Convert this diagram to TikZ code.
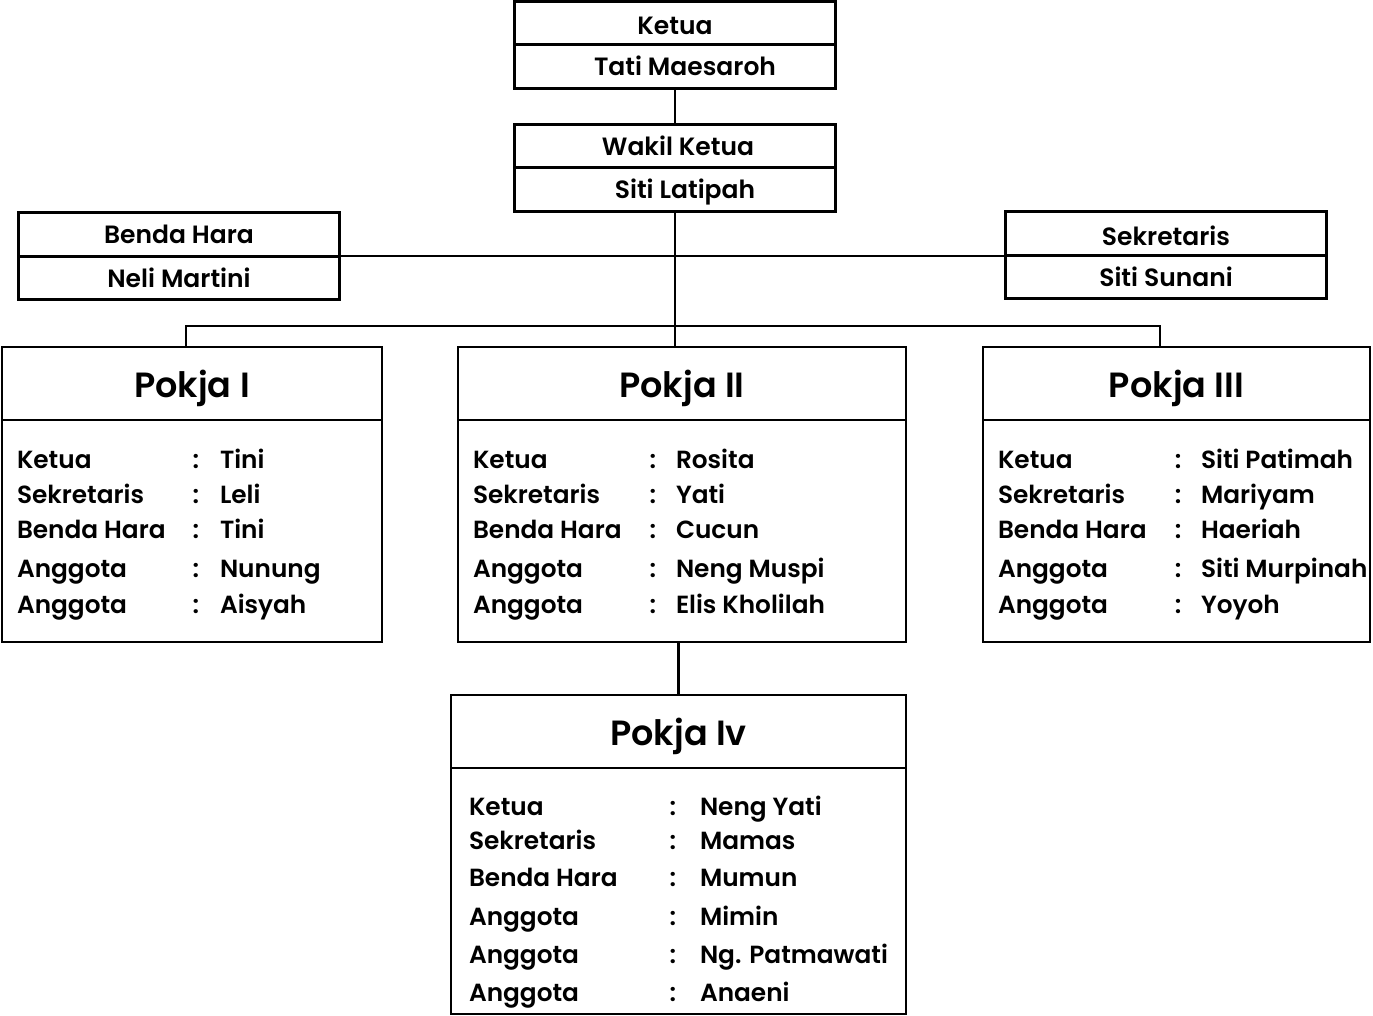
\documentclass[tikz,border=0pt]{standalone}
\usepackage{fontspec}
\setmainfont{Poppins SemiBold}
\usetikzlibrary{positioning}

\begin{document}
\begin{tikzpicture}[
  x=1pt, y=-1pt,
  every node/.style = {inner sep=0pt, outer sep=0pt},
  rolebox/.style = {draw, line width=2.6pt, minimum width=321pt, minimum height=43.5pt, text height=20pt, text depth=1.5pt, font=\fontsize{25}{28}\selectfont},
  pokjahead/.style = {draw, line width=2.6pt, minimum height=73pt, text height=30pt, text depth=3pt, font=\fontsize{35}{39}\selectfont},
  pokjabody/.style = {draw, line width=2.6pt},
  rowtext/.style = {anchor=base west, font=\fontsize{24.8}{28}\selectfont},
  colon/.style = {anchor=base, font=\fontsize{24.8}{28}\selectfont},
  link/.style = {line width=2.2pt}
]
  \useasboundingbox (0,0) rectangle (1373,1016);

  % pengurus inti
  \node[rolebox, text height=25pt] (ketua) at (675,23) {Ketua};
  \node[rolebox, below=0pt of ketua] (ketuaNama) {\hspace{20pt}Tati Maesaroh};
  \node[rolebox] (wakil) at (675,146) {\hspace{6pt}Wakil Ketua};
  \node[rolebox] [below=0pt of wakil] (wakilNama) {\hspace{20pt}Siti Latipah};
  \node[rolebox] (bendahara) at (179,234.5) {Benda Hara};
  \node[rolebox, below=0pt of bendahara] (bendaharaNama) {Neli Martini};
  \node[rolebox, text height=25pt] (sekretaris) at (1166,233.5) {Sekretaris};
  \node[rolebox, below=0pt of sekretaris] (sekretarisNama) {Siti Sunani};

  % pokja
  \node[pokjahead, minimum width=380pt] (pokjaA) at (192,383.5) {Pokja I};
  \node[pokjabody, minimum width=380pt, minimum height=222pt, below=0pt of pokjaA] (pokjaAbody) {};
  \node[pokjahead, minimum width=448pt] (pokjaB) at (682,383.5) {Pokja II};
  \node[pokjabody, minimum width=448pt, minimum height=222pt, below=0pt of pokjaB] (pokjaBbody) {};
  \node[pokjahead, minimum width=387pt] (pokjaC) at (1176.5,383.5) {Pokja III};
  \node[pokjabody, minimum width=387pt, minimum height=222pt, below=0pt of pokjaC] (pokjaCbody) {};
  \node[pokjahead, minimum width=455pt] (pokjaD) at (678.5,731.5) {Pokja Iv};
  \node[pokjabody, minimum width=455pt, minimum height=246pt, below=0pt of pokjaD] (pokjaDbody) {};

  % isi pokja
  \foreach \dy/\lab/\val [count=\i] in {48/Ketua/Tini, 83/Sekretaris/Leli, 118/Benda Hara/Tini, 157/Anggota/Nunung, 193/Anggota/Aisyah}{
    \node[rowtext] (pA-l\i) at ([shift={(15,\dy)}]pokjaAbody.north west) {\lab};
    \node[colon] (pA-c\i) at ([shift={(194,\dy)}]pokjaAbody.north west) {:};
    \node[rowtext] (pA-v\i) at ([shift={(218,\dy)}]pokjaAbody.north west) {\val};
  }
  \foreach \dy/\lab/\val [count=\i] in {48/Ketua/Rosita, 83/Sekretaris/Yati, 118/Benda Hara/Cucun, 157/Anggota/Neng Muspi, 193/Anggota/Elis Kholilah}{
    \node[rowtext] (pB-l\i) at ([shift={(15,\dy)}]pokjaBbody.north west) {\lab};
    \node[colon] (pB-c\i) at ([shift={(195,\dy)}]pokjaBbody.north west) {:};
    \node[rowtext] (pB-v\i) at ([shift={(218,\dy)}]pokjaBbody.north west) {\val};
  }
  \foreach \dy/\lab/\val [count=\i] in {48/Ketua/Siti Patimah, 83/Sekretaris/Mariyam, 118/Benda Hara/Haeriah, 157/Anggota/Siti Murpinah, 193/Anggota/Yoyoh}{
    \node[rowtext] (pC-l\i) at ([shift={(15,\dy)}]pokjaCbody.north west) {\lab};
    \node[colon] (pC-c\i) at ([shift={(195,\dy)}]pokjaCbody.north west) {:};
    \node[rowtext] (pC-v\i) at ([shift={(218,\dy)}]pokjaCbody.north west) {\val};
  }
  \foreach \dy/\lab/\val [count=\i] in {47/Ketua/Neng Yati, 81/Sekretaris/Mamas, 118/Benda Hara/Mumun, 157/Anggota/Mimin, 195/Anggota/Ng. Patmawati, 233/Anggota/Anaeni}{
    \node[rowtext] (pD-l\i) at ([shift={(18,\dy)}]pokjaDbody.north west) {\lab};
    \node[colon] (pD-c\i) at ([shift={(222,\dy)}]pokjaDbody.north west) {:};
    \node[rowtext] (pD-v\i) at ([shift={(249,\dy)}]pokjaDbody.north west) {\val};
  }

  % garis
  \coordinate (bus) at (675,326);
  \coordinate (busA) at (186,326);
  \coordinate (busC) at (1160,326);
  \draw[link] (ketuaNama) -- (wakil);
  \draw[link] (wakilNama) -- (pokjaB.north -| wakilNama.south);
  \draw[link] (bendahara.south east) -- (bendahara.south east -| sekretaris.west);
  \draw[link] (busA |- pokjaA.north) -- (busA) -- (busC) -- (busC |- pokjaC.north);
  \draw[link] (pokjaBbody.south -| pokjaD.north) -- (pokjaD.north);
\end{tikzpicture}
\end{document}
